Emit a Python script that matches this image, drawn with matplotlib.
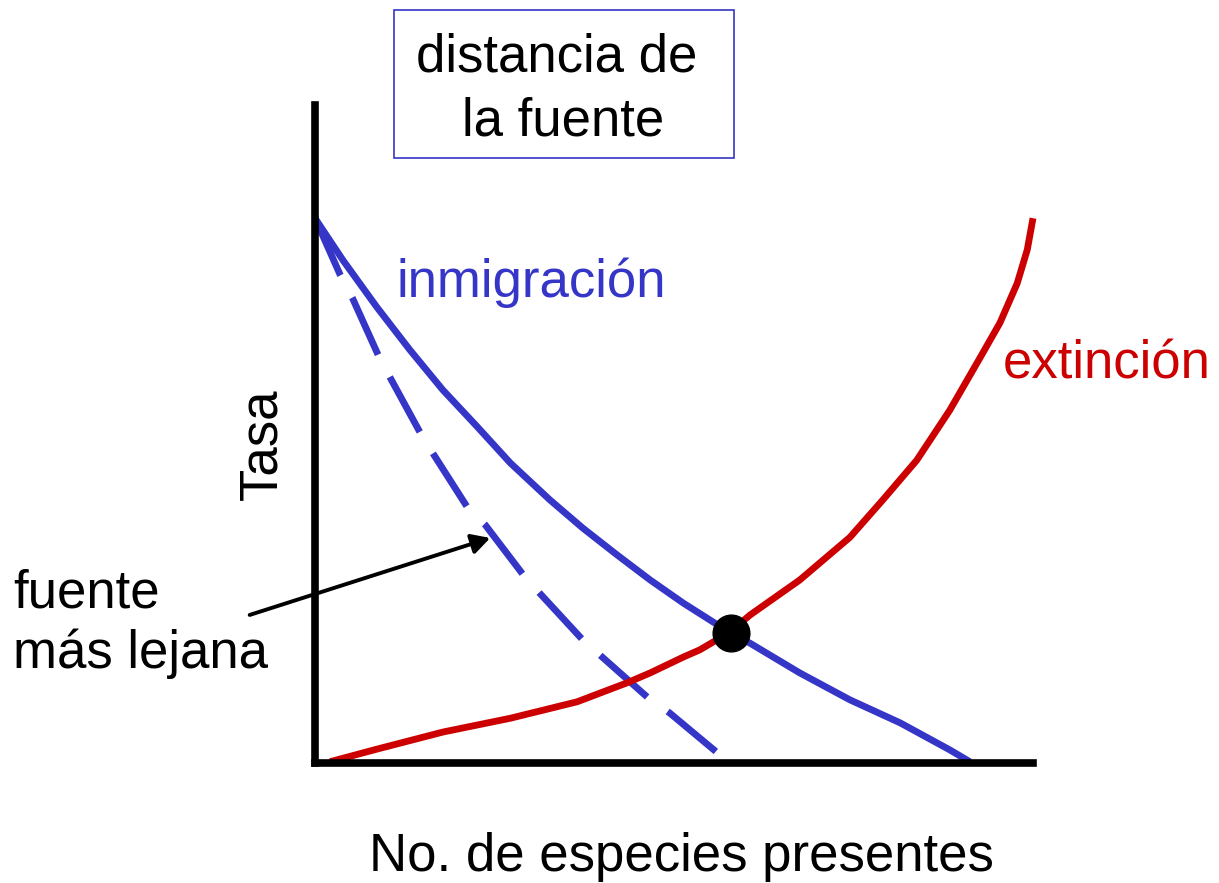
import matplotlib.pyplot as plt
from matplotlib.patches import Rectangle

# Curves: x = species present (0..100), y = rate (0..100)
imm_x = [0, 3.9, 8.6, 13.2, 17.8, 22.6, 27.2, 32.7, 37.3, 42.1, 46.7, 51.3,
         57.8, 60.6, 67.5, 74.5, 81.5, 88.4, 91.2]
imm_y = [82.8, 76.4, 69.3, 62.8, 56.7, 51.1, 45.6, 40.0, 35.7, 31.6, 27.8, 24.3,
         19.8, 18.2, 13.7, 9.6, 6.1, 2.0, 0.2]

far_x = [0, 3.5, 5.2, 8.8, 10.4, 14.6, 16.4, 21.2, 23.7, 29.0, 31.3, 37.3,
         40.0, 46.4, 49.4, 56.1]
far_y = [82.8, 74.2, 70.7, 62.0, 58.7, 50.3, 47.1, 38.9, 36.2, 28.6, 25.8, 18.7,
         16.1, 9.9, 7.6, 1.5]

ext_x = [2.1, 8.6, 17.8, 27.2, 36.5, 43.5, 46.7, 51.3, 53.6, 57.8, 60.6, 67.5,
         74.5, 79.1, 83.8, 88.4, 93.0, 95.4, 97.8, 99.2, 100.0]
ext_y = [0.2, 2.1, 4.7, 6.8, 9.3, 12.2, 13.7, 16.1, 17.2, 19.9, 22.5, 27.8,
         34.3, 40.0, 46.0, 53.6, 62.3, 66.9, 72.9, 78.0, 82.8]

eq_x, eq_y = [57.9], [19.8]

BLUE = "#3535C8"
RED = "#CC0000"
W, H = 1219, 883
FS = 38

plt.rcParams.update({"font.family": ["Liberation Sans", "DejaVu Sans"]})

fig = plt.figure(figsize=(W / 100, H / 100), dpi=100)
ax = fig.add_axes([315 / W, (H - 763) / H, (1033 - 315) / W, (763 - 105) / H])
ax.set_xlim(0, 100)
ax.set_ylim(0, 100)
for s in ["top", "right"]:
    ax.spines[s].set_visible(False)
for s in ["left", "bottom"]:
    ax.spines[s].set_linewidth(5.5)
    ax.spines[s].set_capstyle("projecting")
ax.set_xticks([])
ax.set_yticks([])
ax.patch.set_visible(False)

lw = 4.9
ax.plot(imm_x, imm_y, color=BLUE, lw=lw, solid_joinstyle="round",
        solid_capstyle="butt", clip_on=False)
ax.plot(far_x, far_y, color=BLUE, lw=lw, ls=(0, (9.2, 3.7)),
        dash_capstyle="butt", clip_on=False)
ax.plot(ext_x, ext_y, color=RED, lw=lw, solid_joinstyle="round",
        solid_capstyle="butt", clip_on=False)
ax.scatter(eq_x, eq_y, s=700, color="black", zorder=5, clip_on=False)

ax.annotate("", xy=(24.4, 34.2), xytext=(-9.1, 22.5),
            arrowprops=dict(arrowstyle="-|>,head_length=1.1,head_width=0.6",
                            lw=2.8, color="black", shrinkA=0, shrinkB=0),
            annotation_clip=False)

# texts
ax.text(11.3, 70.8, "inmigración", color=BLUE, fontsize=FS, ha="left", va="baseline")
ax.text(95.8, 58.5, "extinción", color=RED, fontsize=FS, ha="left", va="baseline")

fig.text(13 / W, 1 - 607 / H, "fuente", fontsize=FS, ha="left", va="baseline")
fig.text(13 / W, 1 - 668 / H, "más lejana", fontsize=FS, ha="left", va="baseline")
fig.text(681 / W, 1 - 871 / H, "No. de especies presentes", fontsize=FS,
         ha="center", va="baseline")
fig.text(262 / W, 1 - 444 / H, "Tasa", fontsize=FS, rotation=90,
         ha="center", va="center")

fig.patches.append(Rectangle((394 / W, 1 - 158 / H), (734 - 394) / W, (158 - 10) / H,
                             transform=fig.transFigure, fill=False,
                             edgecolor=BLUE, lw=1.2))
fig.text(557 / W, 1 - 72 / H, "distancia de", fontsize=FS, ha="center", va="baseline")
fig.text(563 / W, 1 - 135 / H, "la fuente", fontsize=FS, ha="center", va="baseline")

fig.savefig("out.png", dpi=100)
